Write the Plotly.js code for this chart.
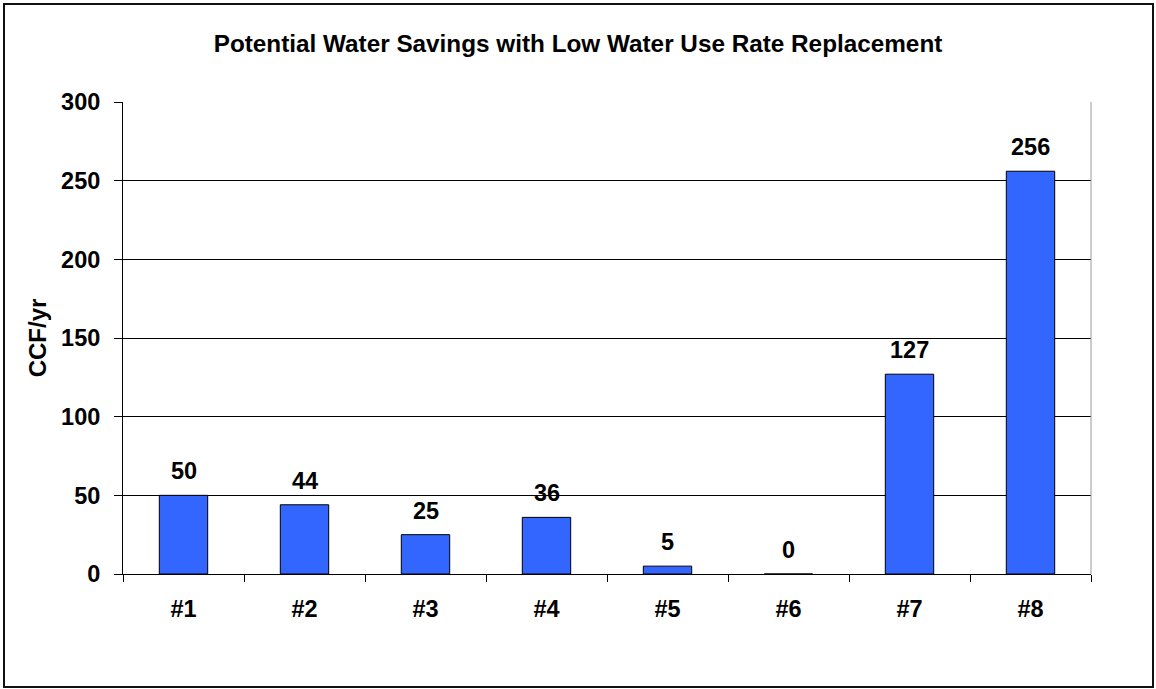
<!DOCTYPE html>
<html>
<head>
<meta charset="utf-8">
<script src="https://cdn.plot.ly/plotly-3.0.1.min.js"></script>
<style>
html,body{margin:0;padding:0;background:#fff;}
#wrap{position:relative;width:1156px;height:689px;}
#chart{width:1156px;height:689px;}
#frame{position:absolute;left:3px;top:3px;width:1147px;height:681px;border:2px solid #111;pointer-events:none;}
</style>
</head>
<body>
<div id="wrap"><div id="chart"></div><div id="frame"></div></div>
<script>
const categories = ["#1", "#2", "#3", "#4", "#5", "#6", "#7", "#8"];
const savings = [50, 44, 25, 36, 5, 0, 127, 256];
const yTicks = [0, 50, 100, 150, 200, 250, 300];
const chartTitle = "Potential Water Savings with Low Water Use Rate Replacement";
const yTitle = "CCF/yr";

const font = "Liberation Sans, Arial, sans-serif";
const labelSize = 23.5;

const trace = {
  type: "bar",
  x: categories,
  y: savings,
  marker: {color: "#3366FF", line: {color: "#000", width: 1}},
  cliponaxis: false,
  hoverinfo: "skip"
};

const valueLabels = categories.map((c, i) => ({
  x: c, y: savings[i], xref: "x", yref: "y",
  text: "<b>" + savings[i] + "</b>",
  showarrow: false, yanchor: "bottom", xanchor: "center",
  yshift: 9,
  font: {family: font, size: labelSize, color: "#000"}
}));

const layout = {
  width: 1156, height: 689,
  margin: {l: 123, r: 65, t: 102, b: 115},
  paper_bgcolor: "#fff", plot_bgcolor: "#fff",
  bargap: 0.6,
  showlegend: false,
  title: {
    text: "<b>" + chartTitle + "</b>",
    font: {family: font, size: 24.3, color: "#000"},
    x: 0.5, xanchor: "center",
    y: 1 - 43/689, yref: "container", yanchor: "middle"
  },
  xaxis: {
    type: "category",
    showline: true, linecolor: "#000", linewidth: 1,
    ticks: "outside", tickson: "boundaries", ticklen: 7, tickcolor: "#000",
    showgrid: false,
    tickfont: {family: font, size: labelSize, color: "#000"},
    ticklabelstandoff: 14,
    tickprefix: "<b>", ticksuffix: "</b>"
  },
  yaxis: {
    range: [0, 300],
    tickvals: yTicks,
    ticktext: yTicks.map(v => "<b>" + v + "</b>"),
    showline: true, linecolor: "#000", linewidth: 1,
    ticks: "outside", ticklen: 8, tickcolor: "#000",
    showgrid: true, gridcolor: "#000", gridwidth: 1,
    zeroline: false,
    tickfont: {family: font, size: labelSize, color: "#000"},
    ticklabelstandoff: 9,
    automargin: false,
    title: {text: "<b>" + yTitle + "</b>", font: {family: font, size: 24, color: "#000"}, standoff: 7}
  },
  annotations: valueLabels,
  shapes: [
    {type: "line", xref: "paper", yref: "paper", x0: 1, x1: 1, y0: 0, y1: 1, line: {color: "#999", width: 1}}
  ]
};

Plotly.newPlot("chart", [trace], layout, {displayModeBar: false, staticPlot: true});
</script>
</body>
</html>
